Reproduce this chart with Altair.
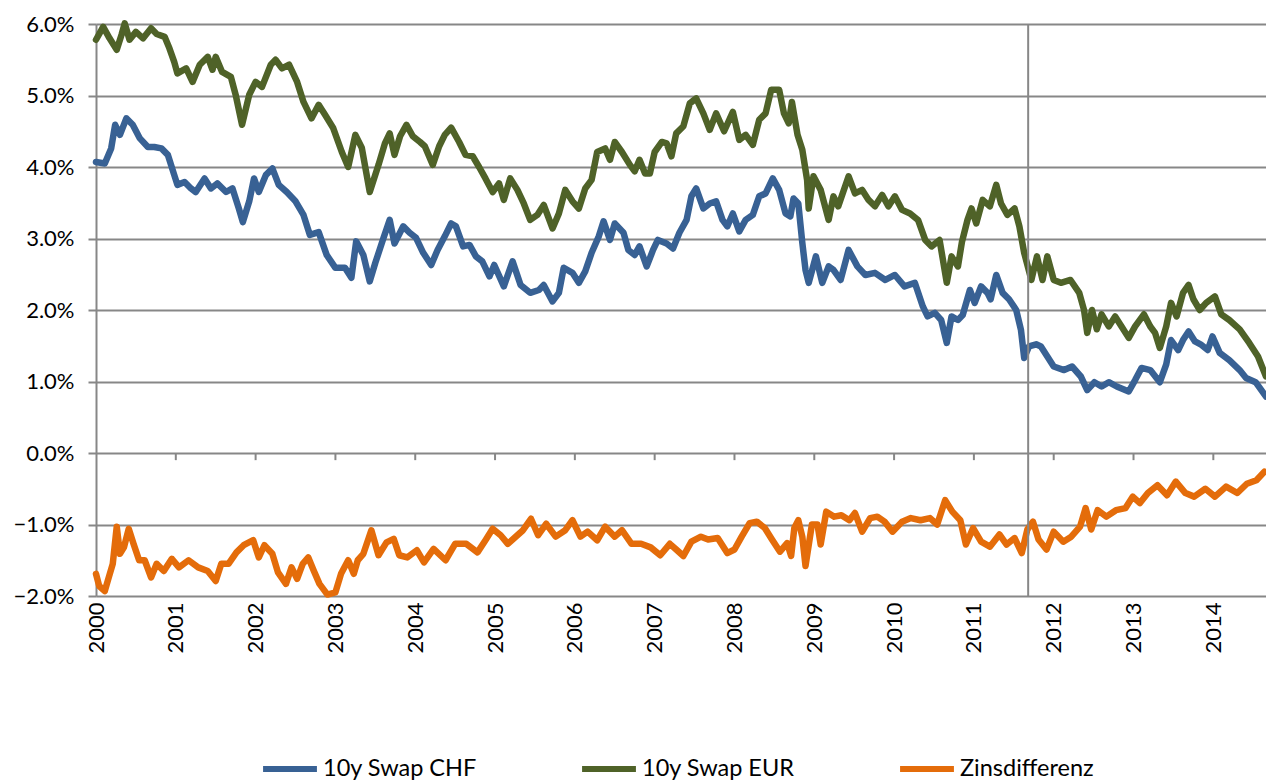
import altair as alt
import pandas as pd

# ---- data (years since 2000, percent) ----
chf_t = [0.00, 0.11, 0.19, 0.24, 0.30, 0.38, 0.46, 0.55, 0.65, 0.73, 0.82, 0.90, 0.98, 1.02, 1.11, 1.19,
         1.25, 1.36, 1.44, 1.52, 1.63, 1.71, 1.79, 1.84, 1.92, 1.98, 2.04, 2.13, 2.21, 2.29, 2.39, 2.50,
         2.60, 2.68, 2.79, 2.89, 3.00, 3.12, 3.20, 3.26, 3.35, 3.43, 3.50, 3.60, 3.68, 3.74, 3.85, 3.93,
         4.01, 4.10, 4.20, 4.28, 4.37, 4.45, 4.51, 4.60, 4.68, 4.76, 4.84, 4.93, 4.99, 5.11, 5.22, 5.32,
         5.44, 5.55, 5.61, 5.72, 5.80, 5.86, 5.97, 6.05, 6.13, 6.21, 6.30, 6.36, 6.44, 6.50, 6.61, 6.67,
         6.75, 6.81, 6.90, 6.98, 7.04, 7.15, 7.23, 7.31, 7.40, 7.46, 7.52, 7.61, 7.69, 7.77, 7.85, 7.91,
         7.98, 8.06, 8.14, 8.23, 8.31, 8.39, 8.48, 8.56, 8.64, 8.70, 8.74, 8.80, 8.85, 8.89, 8.93, 9.02,
         9.10, 9.18, 9.24, 9.33, 9.43, 9.54, 9.64, 9.76, 9.89, 10.01, 10.13, 10.26, 10.36, 10.42, 10.51,
         10.59, 10.66, 10.72, 10.80, 10.86, 10.95, 11.01, 11.09, 11.17, 11.21, 11.28, 11.36, 11.44, 11.53,
         11.59, 11.63, 11.69, 11.78, 11.84, 11.92, 12.00, 12.13, 12.23, 12.34, 12.42, 12.51, 12.60, 12.69,
         12.79, 12.94, 13.02, 13.10, 13.21, 13.33, 13.41, 13.47, 13.56, 13.62, 13.69, 13.77, 13.84, 13.93,
         13.99, 14.08, 14.20, 14.33, 14.41, 14.53, 14.66]
chf_v = [4.07, 4.05, 4.26, 4.59, 4.45, 4.68, 4.59, 4.40, 4.28, 4.28, 4.26, 4.17, 3.89, 3.75, 3.79, 3.70,
         3.65, 3.84, 3.70, 3.77, 3.65, 3.70, 3.42, 3.23, 3.52, 3.84, 3.65, 3.89, 3.98, 3.75, 3.65, 3.52,
         3.33, 3.05, 3.09, 2.77, 2.59, 2.59, 2.45, 2.96, 2.77, 2.40, 2.66, 3.00, 3.26, 2.93, 3.17, 3.08,
         3.01, 2.80, 2.63, 2.84, 3.03, 3.21, 3.17, 2.89, 2.91, 2.75, 2.68, 2.47, 2.63, 2.33, 2.68, 2.35,
         2.24, 2.28, 2.35, 2.12, 2.24, 2.59, 2.52, 2.38, 2.54, 2.80, 3.03, 3.24, 2.98, 3.21, 3.08, 2.84,
         2.77, 2.89, 2.61, 2.84, 2.98, 2.93, 2.86, 3.08, 3.26, 3.59, 3.70, 3.42, 3.49, 3.52, 3.26, 3.17,
         3.35, 3.10, 3.26, 3.33, 3.59, 3.63, 3.84, 3.68, 3.35, 3.31, 3.56, 3.49, 2.94, 2.56, 2.38, 2.75,
         2.38, 2.61, 2.56, 2.42, 2.84, 2.61, 2.49, 2.52, 2.42, 2.49, 2.33, 2.38, 2.05, 1.91, 1.96,
         1.86, 1.54, 1.91, 1.86, 1.93, 2.28, 2.10, 2.33, 2.24, 2.15, 2.49, 2.24, 2.15, 2.00,
         1.72, 1.33, 1.49, 1.52, 1.49, 1.35, 1.21, 1.16, 1.21, 1.07, 0.88, 0.99, 0.93, 0.99,
         0.93, 0.86, 1.02, 1.19, 1.16, 0.99, 1.24, 1.58, 1.44, 1.58, 1.70, 1.56, 1.52, 1.44,
         1.63, 1.40, 1.30, 1.16, 1.05, 0.99, 0.79]

eur_t = [0.00, 0.09, 0.17, 0.26, 0.32, 0.36, 0.42, 0.50, 0.59, 0.69, 0.76, 0.86, 0.92, 0.98, 1.02, 1.13,
         1.21, 1.30, 1.40, 1.46, 1.50, 1.58, 1.69, 1.75, 1.83, 1.92, 2.00, 2.08, 2.19, 2.25, 2.33, 2.42,
         2.52, 2.60, 2.70, 2.79, 2.87, 2.97, 3.08, 3.16, 3.25, 3.33, 3.43, 3.54, 3.62, 3.68, 3.74, 3.81,
         3.89, 3.97, 4.06, 4.12, 4.22, 4.30, 4.37, 4.45, 4.55, 4.63, 4.72, 4.80, 4.88, 4.97, 5.05, 5.11,
         5.19, 5.28, 5.36, 5.44, 5.53, 5.61, 5.72, 5.80, 5.88, 5.97, 6.05, 6.13, 6.21, 6.28, 6.38, 6.44,
         6.50, 6.59, 6.69, 6.75, 6.81, 6.88, 6.94, 7.00, 7.09, 7.15, 7.21, 7.27, 7.36, 7.44, 7.52, 7.61,
         7.69, 7.77, 7.87, 7.98, 8.06, 8.14, 8.23, 8.31, 8.39, 8.46, 8.56, 8.62, 8.68, 8.72, 8.79, 8.85,
         8.91, 8.93, 8.99, 9.08, 9.18, 9.24, 9.30, 9.43, 9.51, 9.60, 9.68, 9.76, 9.85, 9.93, 10.01, 10.10,
         10.20, 10.30, 10.39, 10.47, 10.57, 10.66, 10.72, 10.80, 10.85, 10.92, 10.97, 11.03, 11.11, 11.20,
         11.28, 11.34, 11.42, 11.51, 11.57, 11.63, 11.72, 11.79, 11.86, 11.92, 12.00, 12.09, 12.21, 12.32,
         12.38, 12.42, 12.48, 12.54, 12.60, 12.69, 12.77, 12.85, 12.94, 13.02, 13.13, 13.21, 13.27, 13.33,
         13.41, 13.47, 13.54, 13.62, 13.69, 13.75, 13.83, 13.91, 14.02, 14.10, 14.20, 14.33, 14.45, 14.56,
         14.66]
eur_v = [5.78, 5.96, 5.80, 5.64, 5.85, 6.01, 5.78, 5.89, 5.80, 5.94, 5.86, 5.82, 5.66, 5.47, 5.31, 5.38,
         5.19, 5.43, 5.54, 5.36, 5.54, 5.33, 5.26, 5.01, 4.59, 5.01, 5.19, 5.12, 5.43, 5.50, 5.38, 5.43,
         5.19, 4.91, 4.68, 4.87, 4.73, 4.55, 4.21, 4.00, 4.45, 4.27, 3.65, 4.03, 4.33, 4.47, 4.17, 4.43,
         4.59, 4.43, 4.35, 4.29, 4.03, 4.29, 4.45, 4.55, 4.35, 4.17, 4.15, 4.00, 3.84, 3.65, 3.77, 3.54,
         3.84, 3.68, 3.49, 3.26, 3.33, 3.47, 3.14, 3.35, 3.68, 3.52, 3.42, 3.70, 3.82, 4.21, 4.26, 4.10,
         4.35, 4.21, 4.03, 3.94, 4.10, 3.91, 3.91, 4.21, 4.35, 4.33, 4.15, 4.47, 4.57, 4.89, 4.96, 4.75,
         4.52, 4.75, 4.50, 4.77, 4.38, 4.45, 4.31, 4.66, 4.75, 5.08, 5.08, 4.75, 4.61, 4.91, 4.45, 4.24,
         3.82, 3.42, 3.87, 3.68, 3.26, 3.59, 3.45, 3.87, 3.63, 3.68, 3.54, 3.45, 3.61, 3.45, 3.59, 3.40,
         3.35, 3.26, 2.98, 2.89, 2.98, 2.38, 2.75, 2.61, 2.95, 3.26, 3.42, 3.21, 3.54, 3.45,
         3.75, 3.49, 3.33, 3.42, 3.17, 2.80, 2.42, 2.75, 2.42, 2.75, 2.42, 2.38, 2.42, 2.24,
         2.00, 1.68, 2.00, 1.73, 1.94, 1.77, 1.91, 1.77, 1.61, 1.77, 1.94, 1.77, 1.68, 1.47,
         1.77, 2.10, 1.91, 2.24, 2.35, 2.15, 2.00, 2.10, 2.19, 1.94, 1.86, 1.73, 1.54, 1.35,
         1.07]

dif_t = [0.00, 0.04, 0.11, 0.16, 0.21, 0.26, 0.30, 0.35, 0.41, 0.47, 0.54, 0.61, 0.69, 0.76, 0.85, 0.95,
         1.04, 1.16, 1.28, 1.40, 1.50, 1.57, 1.66, 1.76, 1.85, 1.97, 2.04, 2.11, 2.21, 2.28, 2.38, 2.45,
         2.52, 2.59, 2.66, 2.73, 2.80, 2.90, 3.00, 3.07, 3.16, 3.23, 3.28, 3.35, 3.45, 3.54, 3.64, 3.73,
         3.80, 3.90, 4.02, 4.11, 4.23, 4.38, 4.50, 4.64, 4.78, 4.88, 4.97, 5.07, 5.16, 5.28, 5.35, 5.45,
         5.54, 5.64, 5.76, 5.88, 5.97, 6.07, 6.16, 6.28, 6.38, 6.50, 6.59, 6.71, 6.83, 6.95, 7.07, 7.19,
         7.27, 7.36, 7.46, 7.58, 7.67, 7.79, 7.91, 8.00, 8.09, 8.19, 8.28, 8.38, 8.47, 8.57, 8.66, 8.71,
         8.75, 8.80, 8.85, 8.89, 8.97, 9.04, 9.08, 9.15, 9.25, 9.34, 9.44, 9.51, 9.60, 9.70, 9.79, 9.88,
         9.98, 10.10, 10.21, 10.33, 10.45, 10.54, 10.64, 10.73, 10.83, 10.90, 10.99, 11.09, 11.20, 11.32,
         11.41, 11.51, 11.60, 11.67, 11.74, 11.81, 11.91, 12.00, 12.12, 12.22, 12.33, 12.40, 12.47, 12.55,
         12.66, 12.78, 12.90, 12.99, 13.08, 13.18, 13.30, 13.42, 13.53, 13.65, 13.76, 13.90, 14.02, 14.16,
         14.30, 14.42, 14.54, 14.64]
dif_v = [-1.69, -1.86, -1.93, -1.74, -1.55, -1.03, -1.41, -1.32, -1.06, -1.27, -1.50, -1.50, -1.74, -1.55,
         -1.65, -1.48, -1.60, -1.50, -1.60, -1.65, -1.79, -1.55, -1.55, -1.39, -1.29, -1.22, -1.46, -1.29,
         -1.41, -1.67, -1.83, -1.60, -1.76, -1.55, -1.46, -1.65, -1.83, -1.98, -1.95, -1.69, -1.50, -1.69,
         -1.50, -1.41, -1.08, -1.43, -1.25, -1.20, -1.43, -1.46, -1.36, -1.53, -1.34, -1.50, -1.27, -1.27,
         -1.39, -1.22, -1.06, -1.15, -1.27, -1.15, -1.08, -0.92, -1.15, -0.99, -1.17, -1.08, -0.94, -1.17,
         -1.10, -1.22, -1.03, -1.17, -1.08, -1.27, -1.27, -1.32, -1.43, -1.27,
         -1.35, -1.44, -1.24, -1.17, -1.21, -1.19, -1.40, -1.35, -1.17, -0.98, -0.96, -1.05, -1.21, -1.38,
         -1.26, -1.44, -1.05, -0.94, -1.17, -1.58, -1.00, -1.00, -1.28, -0.82, -0.89, -0.87, -0.94, -0.84,
         -1.10, -0.91, -0.89, -0.96, -1.10, -0.96, -0.91, -0.94, -0.91, -1.00, -0.66, -0.82, -0.94, -1.28,
         -1.05, -1.24, -1.31, -1.14, -1.28, -1.19, -1.40, -1.07, -0.96, -1.21, -1.35, -1.10, -1.24, -1.17,
         -1.03, -0.77, -1.07, -0.80, -0.89, -0.80, -0.77, -0.61, -0.70, -0.56, -0.45, -0.59, -0.40, -0.56,
         -0.61, -0.50, -0.61, -0.47, -0.56, -0.43, -0.38, -0.26]

series_names = ["10y Swap CHF", "10y Swap EUR", "Zinsdifferenz"]
series_colors = ["#386194", "#4F6228", "#E46C0A"]
year_ticks = list(range(2000, 2015))
pct_ticks = [-2, -1, 0, 1, 2, 3, 4, 5, 6]
event_years = [2011.68]

grid_color = "#878787"
font = "Lato"

rows = []
for name, ts, vs in zip(series_names, [chf_t, eur_t, dif_t], [chf_v, eur_v, dif_v]):
    for i, (t, v) in enumerate(zip(ts, vs)):
        rows.append({"series": name, "year": 2000 + t, "value": v, "order": i})
df = pd.DataFrame(rows)

x_scale = alt.Scale(domain=[2000, 2014.66], nice=False, zero=False)
y_scale = alt.Scale(domain=[-2, 6], nice=False, zero=False)

x_axis = alt.Axis(values=year_ticks, format="d", labelAngle=-90, ticks=False, domain=False,
                  grid=False, title=None, labelFontSize=22, labelPadding=6, labelColor="black",
                  labelFont=font)
y_axis = alt.Axis(values=pct_ticks, labelExpr="format(datum.value, '.1f') + '%'", grid=True,
                  gridColor=grid_color, gridWidth=2, domain=True, domainColor=grid_color,
                  domainWidth=2, ticks=True, tickColor=grid_color, tickWidth=2, tickSize=8,
                  labelPadding=14, labelFontSize=22, labelColor="black", labelFont=font, title=None)

lines = alt.Chart(df).mark_line(strokeWidth=6.5, strokeCap="round", strokeJoin="round").encode(
    x=alt.X("year:Q", scale=x_scale, axis=x_axis),
    y=alt.Y("value:Q", scale=y_scale, axis=y_axis),
    color=alt.Color("series:N", scale=alt.Scale(domain=series_names, range=series_colors),
                    legend=alt.Legend(orient="none", legendX=164, legendY=715, direction="horizontal",
                                      title=None, symbolType="stroke", symbolStrokeWidth=6,
                                      symbolSize=2900, labelFontSize=23.5, labelFont=font,
                                      labelColor="black", labelOffset=3, columnPadding=93,
                                      labelLimit=400)),
    order="order:Q",
)

ticks_df = pd.DataFrame({"year": year_ticks[1:]})
zero_ticks = alt.Chart(ticks_df).mark_rule(color=grid_color, strokeWidth=2).encode(
    x=alt.X("year:Q", scale=x_scale, axis=x_axis),
    y=alt.datum(0, scale=y_scale),
    y2=alt.datum(-0.1),
)

event_df = pd.DataFrame({"year": event_years})
event_rule = alt.Chart(event_df).mark_rule(color=grid_color, strokeWidth=2).encode(
    x=alt.X("year:Q", scale=x_scale, axis=x_axis),
)

chart = alt.layer(zero_ticks, lines, event_rule).properties(
    width=1170,
    height=572,
    autosize=alt.AutoSizeParams(type="none"),
    padding={"left": 88, "top": 16, "right": 0, "bottom": 185},
).configure_view(stroke=None).configure(font=font)

chart.save("out.html", embed_options={"renderer": "svg", "actions": False})
